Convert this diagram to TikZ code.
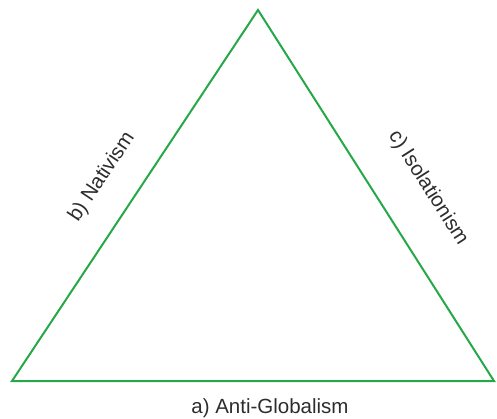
\documentclass[tikz,border=0pt]{standalone}
\usepackage{fontspec}
\setmainfont{Liberation Sans}
\definecolor{sidegreen}{RGB}{38,168,72}
\definecolor{labelgray}{RGB}{45,45,45}
\tikzset{
  side/.style={draw=sidegreen,line width=2pt,line join=miter},
  sidelabel/.style={text=labelgray,font=\fontsize{20.5}{24}\selectfont,inner sep=0pt}
}
\begin{document}
\begin{tikzpicture}[x=1pt,y=-1pt]
\useasboundingbox (0,0) rectangle (497,419);
\coordinate (top) at (258,10);
\coordinate (bl) at (12,381);
\coordinate (br) at (494,381);
\draw[side] (top) -- (bl) -- (br) -- cycle;
\node[sidelabel] (anti) at (270,408) {a) Anti-Globalism};
\node[sidelabel,rotate=56.45] (nat) at (102,177) {b) Nativism};
\node[sidelabel,rotate=-57.5] (iso) at (428,188) {c) Isolationism};
\end{tikzpicture}
\end{document}
